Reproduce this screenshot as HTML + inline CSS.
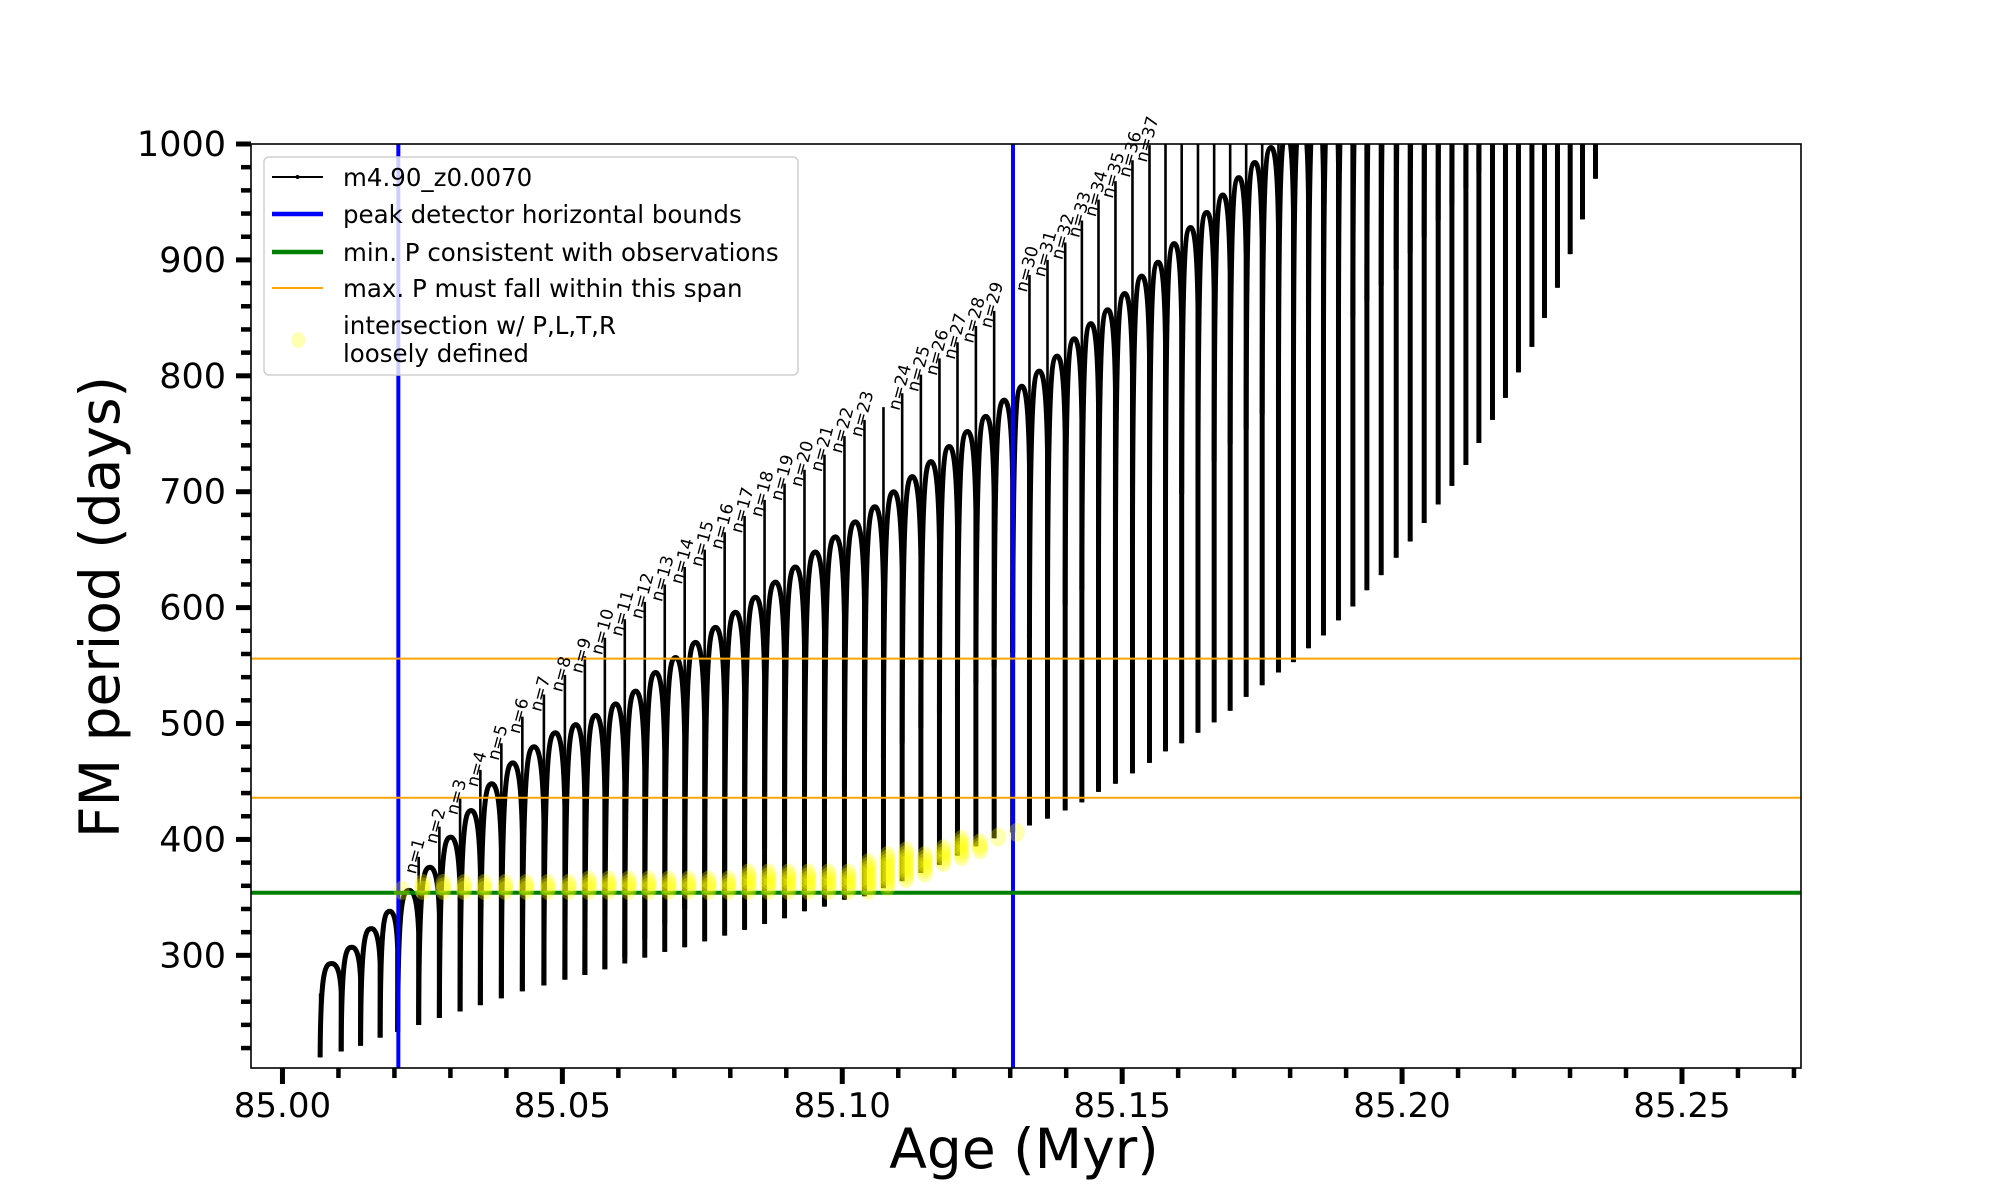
<!DOCTYPE html>
<html><head><meta charset="utf-8"><style>
html,body{margin:0;padding:0;background:#fff;}
svg{display:block;font-family:"DejaVu Sans","Liberation Sans",sans-serif;}
</style></head><body>
<svg id="chart" width="2000" height="1200" viewBox="0 0 2000 1200" xmlns="http://www.w3.org/2000/svg">
<defs><clipPath id="plotclip"><rect x="251" y="144" width="1550" height="924"/></clipPath></defs>
<rect x="0" y="0" width="2000" height="1200" fill="#fff"/>
<g id="data" clip-path="url(#plotclip)"></g>
<g id="axes"></g>
<g id="labels"></g>
<text x="1024" y="1168" font-size="55" text-anchor="middle">Age (Myr)</text>
<text transform="translate(119,607) rotate(-90)" font-size="55" text-anchor="middle">FM period (days)</text>
<g id="legend">
<rect x="264" y="157" width="534" height="218" rx="5" fill="#fff" fill-opacity="0.8" stroke="#d0d0d0" stroke-width="1.5"/>
<g><line x1="272" y1="177" x2="323" y2="177" stroke="#000" stroke-width="2"/><circle cx="297.5" cy="177" r="2" fill="#000"/><text x="343" y="186" font-size="24.5">m4.90_z0.0070</text></g>
<g><line x1="272" y1="214" x2="323" y2="214" stroke="#0000ff" stroke-width="4.5"/><text x="343" y="223" font-size="24.5">peak detector horizontal bounds</text></g>
<g><line x1="272" y1="252" x2="323" y2="252" stroke="#008000" stroke-width="4.5"/><text x="343" y="261" font-size="24.5">min. P consistent with observations</text></g>
<g><line x1="272" y1="288" x2="323" y2="288" stroke="#ffa500" stroke-width="2"/><text x="343" y="297" font-size="24.5">max. P must fall within this span</text></g>
<g><ellipse cx="298.5" cy="340" rx="7" ry="8" fill="#ffff00" fill-opacity="0.3"/><text x="343" y="334" font-size="24.5">intersection w/ P,L,T,R</text><text x="343" y="362" font-size="24.5">loosely defined</text></g>
</g>
</svg>
<script>
const cycleAge = [85.00673,85.01049,85.01395,85.01745,85.02058,85.02433,85.02803,85.03173,85.03535,85.03910,85.04285,85.04670,85.05045,85.05402,85.05759,85.06115,85.06472,85.06829,85.07185,85.07542,85.07899,85.08255,85.08612,85.08969,85.09325,85.09682,85.10039,85.10397,85.10736,85.11070,85.11404,85.11736,85.12058,85.12387,85.12713,85.13044,85.13344,85.13666,85.13982,85.14280,85.14577,85.14880,85.15184,85.15488,85.15774,85.16063,85.16354,85.16643,85.16929,85.17215,85.17501,85.17792,85.18060,85.18328,85.18596,85.18864,85.19121,85.19371,85.19627,85.19895,85.20145,85.20395,85.20645,85.20890,85.21140,85.21372,85.21615,85.21847,85.22079,85.22319,85.22544,85.22776,85.23003,85.23223,85.23455];
const cycleMin = [212,217,222,229,234,240,246,251.5,257,263,269,274,279,283,288,293,298,303,307,312,317,322,327,332,338,342,348,351,358,364,371,378,386,394,401,406,412,418,425,432,441,448,457,466,476,483,492,501,511,523,533,544,553,565,576,589,601,615,628,643,657,673,689,705,723,742,762,781,803,825,850,876,905,935,970];
const cycleSpike = [267,217,222,229,234,385,411,436,460,483,506,525,542,558,574,590,605,620,635,650,665,679,693,707,719,732,748,762,773,785,801,815,829,843,856,871,887,900,915,934,952,968,986,999,1015,1030,1045,1060,1075,1090,1105,1120,1130,1140,1150,1160,1170,1180,1190,1200,1210,1220,1230,1240,1250,1260,1270,1280,1290,1300,1310,1320,1330,1340,1350];
const cycleHump = [293,307,323,338,356,376,402,425,448,466,480,492,499,507,517,528,544,557,570,583,596,609,622,635,648,661,674,687,700,713,726,739,752,765,779,791,804,817,832,845,857,871,886,898,914,928,941,956,971,984,997,1010,1024,1038,1052,1066,1080,1094,1108,1122,1136,1150,1164,1178,1192,1206,1220,1234,1248,1262,1276,1290,1304,1318];
const labelCycle = [5,6,7,8,9,10,11,12,13,14,15,16,17,18,19,20,21,22,23,24,25,26,27,29,30,31,32,33,34,36,37,38,39,40,41,42,43];
const labelN = [1,2,3,4,5,6,7,8,9,10,11,12,13,14,15,16,17,18,19,20,21,22,23,24,25,26,27,28,29,30,31,32,33,34,35,36,37];
const markerCycle = [4,5,6,7,8,9,10,11,12,13,14,15,16,17,18,19,20,21,22,23,24,25,26,27,28,29,30,31,32,33,34,35];
const markerLo = [356,356,356,356,356,356,356,356,356,356,356,356,356,356,356,356,356,356,356,356,356,356,356,356,359,366,371,380,385,391,402,406];
const markerHi = [356,362,362,362,362,362,362,362,362,366,366,366,366,366,366,366,366,372,372,372,372,372,372,380,388,390,388,394,400,397,402,406];
const blueBounds = [85.0207, 85.1305];
const greenLevels = [354];
const orangeLevels = [556, 436];
const xMajorTicks = [85.00,85.05,85.10,85.15,85.20,85.25];
const xTickLabels = ["85.00","85.05","85.10","85.15","85.20","85.25"];
const yMajorTicks = [300,400,500,600,700,800,900,1000];
const yTickLabels = ["300","400","500","600","700","800","900","1000"];

const NS = "http://www.w3.org/2000/svg";
const L = 251, R = 1801, T = 144, B = 1068;
const X0 = 84.99438, X1 = 85.27126, YLO = 202.8, YHI = 1000;
function X(a){ return L + (a - X0) / (X1 - X0) * (R - L); }
function Y(p){ return B - (p - YLO) / (YHI - YLO) * (B - T); }
function mk(tag, attrs, parent){ const e = document.createElementNS(NS, tag); for (const k in attrs) e.setAttribute(k, attrs[k]); parent.appendChild(e); return e; }

const data = document.getElementById('data');
const axes = document.getElementById('axes');
const labels = document.getElementById('labels');

const n = cycleAge.length;
for (let k = 0; k < n; k++) {
  const x0 = X(cycleAge[k]);
  const sp = mk('line', {x1:x0, y1:Y(cycleMin[k]), x2:x0, y2:Y(Math.max(cycleSpike[k], cycleMin[k])), stroke:'#000', 'stroke-width':2.6}, data);
  
  
  if (k < n - 1) {
    const x1 = X(cycleAge[k+1]);
    const d = x1 - x0;
    const top = cycleHump[k];
    const start = Math.max(cycleMin[k], top - 230);
    const end = top - 0.3 * (top - start);
    const yS = Y(start), yT = Y(top), yE = Y(end);
    const p = `M${x0},${yS} C${x0+0.02*d},${yT+0.05*(yS-yT)} ${x0+0.25*d},${yT} ${x0+0.55*d},${yT} C${x0+0.8*d},${yT} ${x1-0.05*d},${yT+0.3*(yE-yT)} ${x1},${yE} L${x1},${Y(cycleMin[k+1])}`;
    const h = mk('path', {d:p, fill:'none', stroke:'#000', 'stroke-width':5, 'stroke-linejoin':'round'}, data);
    
    
  }
}
blueBounds.forEach(a => {
  const l = mk('line', {x1:X(a), y1:T, x2:X(a), y2:B, stroke:'#0000ff', 'stroke-width':4}, data);
  
  
});
greenLevels.forEach(v => {
  const l = mk('line', {x1:L, y1:Y(v), x2:R, y2:Y(v), stroke:'#008000', 'stroke-width':4}, data);
  
  
});
orangeLevels.forEach(v => {
  const l = mk('line', {x1:L, y1:Y(v), x2:R, y2:Y(v), stroke:'#ffa500', 'stroke-width':2}, data);
  
  
});
markerCycle.forEach((c, i) => {
  const cx = X(cycleAge[c]) + 4;
  for (let v = markerLo[i]; v <= markerHi[i] + 0.01; v += 3) {
    const m = mk('ellipse', {cx:cx, cy:Y(v), rx:8, ry:9.5, fill:'#ffff00', 'fill-opacity':0.3}, data);
    
    
  }
});
labelCycle.forEach((c, i) => {
  const x = X(cycleAge[c]) - 3, y = Y(cycleSpike[c]) + 18;
  const t = mk('text', {transform:`translate(${x},${y}) rotate(-75)`, 'font-size':17, fill:'#000'}, labels);
  t.textContent = 'n=' + labelN[i];
  
  
});
const fr = mk('rect', {x:L, y:T, width:R-L, height:B-T, fill:'none', stroke:'#000', 'stroke-width':1.6}, axes);


xMajorTicks.forEach((a, i) => {
  const x = X(a);
  const tk = mk('line', {x1:x, y1:B, x2:x, y2:B+16, stroke:'#000', 'stroke-width':5}, axes);
  
  
  const tl = mk('text', {x:x, y:1117, 'font-size':34, 'text-anchor':'middle'}, axes);
  tl.textContent = xTickLabels[i];
  
  
});
for (let m = 1; m <= 27; m++) {
  if (m % 5 === 0) continue;
  const x = X(85 + m * 0.01);
  const tk = mk('line', {x1:x, y1:B, x2:x, y2:B+10, stroke:'#000', 'stroke-width':4.5}, axes);
  
  
}
yMajorTicks.forEach((v, i) => {
  const y = Y(v);
  const tk = mk('line', {x1:L-15, y1:y, x2:L, y2:y, stroke:'#000', 'stroke-width':5}, axes);
  
  
  const tl = mk('text', {x:226, y:y+12, 'font-size':35, 'text-anchor':'end'}, axes);
  tl.textContent = yTickLabels[i];
  
  
});
for (let v = 220; v < 1000; v += 20) {
  if (v % 100 === 0) continue;
  const y = Y(v);
  const tk = mk('line', {x1:L-10, y1:y, x2:L, y2:y, stroke:'#000', 'stroke-width':4.5}, axes);
  
  
}
</script>
</body></html>
